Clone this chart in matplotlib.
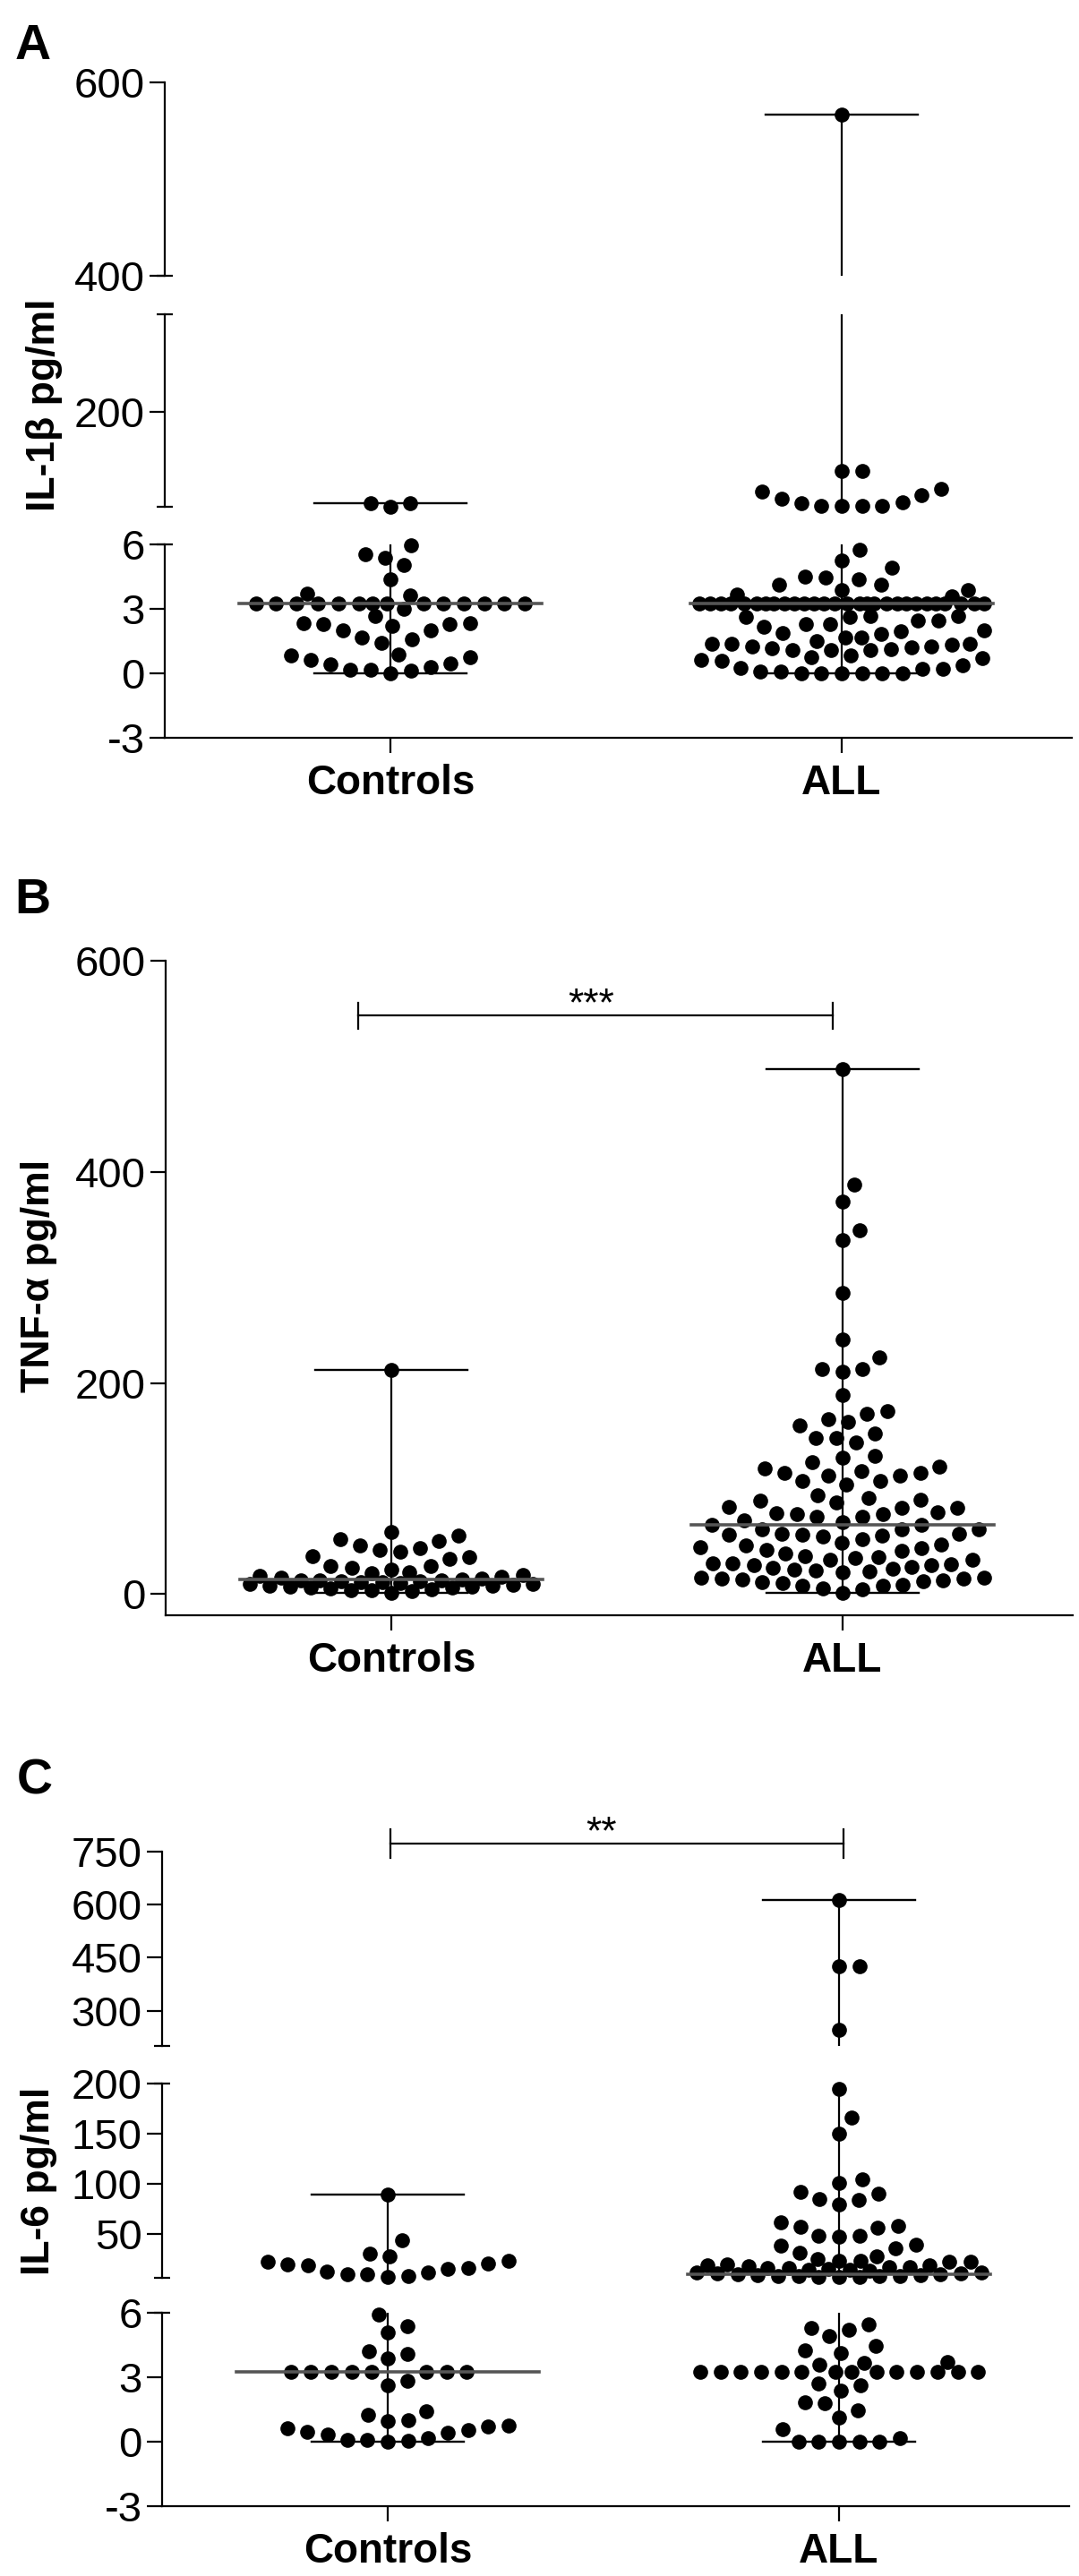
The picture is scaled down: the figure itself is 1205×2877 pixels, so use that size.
import numpy as np
import matplotlib
matplotlib.use("Agg")
import matplotlib.pyplot as plt

plt.rcParams["font.family"] = ["Liberation Sans", "DejaVu Sans"]
plt.rcParams["axes.unicode_minus"] = False

groups = ["Controls", "ALL"]

# IL-1beta, pg/ml
il1b_controls = [0.0, 0.10, 0.15, 0.15, 0.29, 0.40, 0.46, 0.61, 0.73, 0.81, 0.87,
                 1.40, 1.57, 1.68, 1.98, 1.98, 2.19, 2.30, 2.30, 2.31, 2.34,
                 2.65, 2.99,
                 3.23, 3.23, 3.23, 3.23, 3.23, 3.23, 3.23, 3.23, 3.23, 3.23, 3.23, 3.23, 3.23, 3.23,
                 3.62, 3.71, 4.35, 5.04, 5.38, 5.52, 5.93,
                 6.5, 12.5, 13.0]
il1b_all = [0.0, 0.0, 0.0, 0.0, 0.0, 0.01, 0.08, 0.08, 0.22, 0.22, 0.25, 0.39, 0.57, 0.61,
            0.71, 0.74, 0.84,
            1.08, 1.08, 1.08, 1.12, 1.15, 1.22, 1.26, 1.26, 1.33, 1.36, 1.36, 1.37, 1.50, 1.68, 1.68,
            1.81, 1.88, 1.95, 1.99,
            2.16, 2.30, 2.30, 2.44, 2.44, 2.60, 2.60, 2.65, 2.65,
            3.23, 3.23, 3.23, 3.23, 3.23, 3.23, 3.23, 3.23, 3.23, 3.23, 3.23, 3.23, 3.23, 3.23,
            3.23, 3.23, 3.23, 3.23, 3.23, 3.23, 3.23, 3.23, 3.23, 3.23, 3.23, 3.23, 3.23, 3.23,
            3.58, 3.66, 3.87, 3.87, 4.10, 4.10, 4.38, 4.43, 4.49, 4.89, 5.25, 5.72,
            8.0, 8.0, 8.0, 8.5, 14.0, 15.7, 23.0, 29.0, 37.0, 42.0, 79.0, 80.0,
            567.0]

# TNF-alpha, pg/ml (panel B)
tnfa_controls = [0.8, 2.5, 3.5, 4.0, 4.5,
                 5.2, 5.9, 6.3, 7.1, 7.4, 8.2, 8.4, 9.1, 9.6, 9.8, 10.7, 11.2, 11.5, 12.1,
                 12.6, 12.9, 13.2, 13.4,
                 13.6, 14.5, 15.5, 16.5, 17.5, 18.4, 20.6,
                 20.0, 23.0, 27.0,
                 24.9, 26.3, 33.3, 36.2,
                 35.3, 40.4, 41.8, 43.2,
                 46.0, 50.3, 51.7, 55.9, 58.8,
                 212.0]
tnfa_all = [0.85, 5.0, 5.3, 7.7, 8.1, 9.2, 10.4, 11.0, 12.1, 13.0, 14.0, 14.5, 15.0, 15.2, 15.5,
            21.0, 21.4, 22.2, 23.3, 24.4, 25.1, 26.0, 27.2, 27.6, 28.1, 29.0, 29.3,
            32.2, 33.0, 34.1, 35.3, 36.4, 38.2, 41.1, 41.8, 44.0, 44.6,
            46.0, 47.2, 48.9, 52.1, 54.5, 55.9, 56.0, 56.3, 57.4, 57.5, 61.0, 61.6, 61.6, 65.5, 66.0,
            68.6, 70.1, 72.9, 72.9, 75.7, 75.7, 77.0, 77.7, 81.4, 81.4, 83.0, 87.0, 88.4,
            89.8, 91.2, 94.0,
            104.0, 106.8, 106.8, 112.4, 112.4, 115.0, 115.0, 116.7,
            119.5, 120.9, 125.0, 129.4, 130.8,
            143.5, 147.7, 147.7, 152.0, 159.6, 163.3, 166.1, 170.9, 173.7, 188.7,
            210.8, 213.3, 213.3, 224.6, 241.5, 285.0, 335.0, 345.0, 372.0, 388.0, 497.0]

# IL-6, pg/ml (panel C)
il6_controls = [0.0, 0.03, 0.10, 0.10, 0.16, 0.34, 0.40, 0.47, 0.53, 0.64, 0.71, 0.75, 0.96, 0.99,
                1.26, 1.40, 2.63, 2.84,
                3.23, 3.23, 3.23, 3.23, 3.23, 3.23, 3.23, 3.23,
                3.86, 4.07, 4.20, 5.07, 5.37, 5.92,
                7.2, 8.1, 9.6, 9.6, 11.0, 12.0, 14.9, 15.5, 18.4, 19.4, 20.0, 22.3, 23.0, 27.4, 30.4,
                43.3, 89.1]
il6_all = [0.0, 0.0, 0.0, 0.0, 0.0, 0.16, 0.58,
           1.12, 1.44, 1.80, 1.85, 2.36, 2.63, 2.70,
           3.23, 3.23, 3.23, 3.23, 3.23, 3.23, 3.23, 3.23, 3.23, 3.23, 3.23, 3.23, 3.23, 3.23,
           3.59, 3.66, 3.70, 4.14, 4.25, 4.44, 4.92, 5.19, 5.30, 5.47,
           6.5, 7.0, 7.1, 7.5, 7.6, 8.0, 8.2, 8.6, 9.1, 9.6, 10.0, 10.3, 10.6, 11.0, 11.4,
           12.8, 13.9, 14.4, 15.1, 15.6, 16.0, 16.7, 17.1, 17.6, 18.1, 18.5, 19.2,
           22.0, 22.0, 23.0, 23.0, 24.5, 27.4, 31.0, 35.8, 37.9, 39.3, 46.8, 48.3, 48.3,
           56.3, 57.2, 57.7, 61.7, 79.5, 84.0, 84.6, 90.0, 91.5, 101.0, 104.0,
           150.2, 166.0, 194.8,
           246.0, 425.6, 425.6, 612.5]

W, H, DPI = 1205, 2877, 100
fig = plt.figure(figsize=(W / DPI, H / DPI), dpi=DPI)

XLIM = (-0.5, 1.51)
AX_W = 1013          # px
DOT_D = 22.7         # px between touching dots
HALF_W = 159         # px, widest a swarm gets
MED_HALF = 0.336     # data units
WHISK_HALF = 0.169
LW = 1.6


def add_ax(left, top, bottom, ylim, majors, caps=()):
    ax = fig.add_axes([left / W, 1 - bottom / H, AX_W / W, (bottom - top) / H])
    ax.set_xlim(*XLIM)
    ax.set_ylim(*ylim)
    ax.patch.set_visible(False)
    for s in ["top", "right", "bottom"]:
        ax.spines[s].set_visible(False)
    ax.spines["left"].set_linewidth(LW)
    ax.set_xticks([])
    ax.set_yticks(majors)
    ax.yaxis.remove_overlapping_locs = False
    ax.set_yticks(list(caps), minor=True)
    ax.tick_params(axis="y", which="major", direction="out", length=12, width=LW,
                   labelsize=34, pad=4)
    ax.tick_params(axis="y", which="minor", direction="inout", length=13, width=LW)
    return ax


def set_xaxis(ax):
    ax.spines["bottom"].set_visible(True)
    ax.spines["bottom"].set_linewidth(LW)
    ax.set_xticks([0, 1])
    ax.set_xticklabels(groups, fontsize=33, fontweight="bold")
    ax.tick_params(axis="x", direction="out", length=12, width=LW, pad=9)


def swarm(ypx):
    xs = np.zeros(len(ypx))
    placed = []
    for i in np.argsort(ypx, kind="stable"):
        y = ypx[i]
        near = [(px, py) for px, py in placed if abs(py - y) < DOT_D]
        cands = [0.0]
        for px, py in near:
            d = np.sqrt(DOT_D ** 2 - (py - y) ** 2)
            cands += [px - d, px + d]
        good = [c for c in cands if abs(c) <= HALF_W + 1e-6 and
                all((c - px) ** 2 + (y - py) ** 2 >= DOT_D ** 2 - 1e-6 for px, py in near)]
        if good:
            x = min(good, key=lambda c: (round(abs(c), 4), -c))
        else:
            grid = np.linspace(-HALF_W, HALF_W, 161)
            score = [min(np.hypot(g - px, y - py) for px, py in near) for g in grid]
            k = max(range(len(grid)), key=lambda j: (round(score[j], 2), -abs(grid[j])))
            x = grid[k]
        xs[i] = x
        placed.append((x, y))
    return xs


def draw_group(axes, bounds, xpos, values):
    vals = np.asarray(values, dtype=float)
    vmin, vmax, med = vals.min(), vals.max(), np.median(vals)
    for ax, (lo, hi) in zip(axes, bounds):
        sel = vals[(vals > lo) & (vals <= hi)]
        if len(sel):
            ypx = ax.transData.transform(np.column_stack([np.full(len(sel), xpos), sel]))[:, 1]
            xscale = ax.bbox.width / (XLIM[1] - XLIM[0])
            ax.plot(xpos + swarm(ypx) / xscale, sel, "o", ms=12, color="black",
                    mew=0, clip_on=False, zorder=2)
        ax.plot([xpos, xpos], [vmin, vmax], color="black", lw=1.6, zorder=1)
        for v in (vmin, vmax):
            ax.plot([xpos - WHISK_HALF, xpos + WHISK_HALF], [v, v], color="black", lw=1.7, zorder=1)
        ax.plot([xpos - MED_HALF, xpos + MED_HALF], [med, med], color="#555555", lw=2.6, zorder=3)


def sig_bar(ax, x0, x1, y, cap, text, tx):
    kw = dict(color="black", lw=1.6, clip_on=False)
    ax.plot([x0, x1], [y, y], **kw)
    ax.plot([x0, x0], [y - cap, y + cap], **kw)
    ax.plot([x1, x1], [y - cap, y + cap], **kw)
    ax.text(tx, y, text, ha="center", va="baseline", fontsize=32, clip_on=False)


def label(text, x, y, **kw):
    fig.text(x / W, 1 - y / H, text, fontweight="bold", **kw)


# ---- panel A: IL-1b, axis broken twice
a_low = add_ax(184, 607.7, 824, (-3, 6), [-3, 0, 3, 6], [6])
a_mid = add_ax(184, 351, 566, (6, 400), [200], [6, 400])
a_top = add_ax(184, 92, 308, (400, 600), [400, 600], [400])
set_xaxis(a_low)
a_axes = [a_low, a_mid, a_top]
a_bounds = [(-np.inf, 6), (6, 400), (400, np.inf)]
draw_group(a_axes, a_bounds, 0, il1b_controls)
draw_group(a_axes, a_bounds, 1, il1b_all)

# ---- panel B: TNF-a, single axis
b_ax = add_ax(185, 1073, 1804, (-20, 600), [0, 200, 400, 600])
set_xaxis(b_ax)
draw_group([b_ax], [(-np.inf, np.inf)], 0, tnfa_controls)
draw_group([b_ax], [(-np.inf, np.inf)], 1, tnfa_all)
sig_bar(b_ax, -0.073, 0.978, 548, 12.3, "***", 0.4425)

# ---- panel C: IL-6, axis broken twice
c_low = add_ax(181, 2583, 2799, (-3, 6), [-3, 0, 3, 6], [6])
c_mid = add_ax(181, 2327, 2544, (6, 200), [50, 100, 150, 200], [6, 200])
c_top = add_ax(181, 2068, 2285, (200, 750), [300, 450, 600, 750], [200])
set_xaxis(c_low)
c_axes = [c_low, c_mid, c_top]
c_bounds = [(-np.inf, 6), (6, 200), (200, np.inf)]
draw_group(c_axes, c_bounds, 0, il6_controls)
draw_group(c_axes, c_bounds, 1, il6_all)
sig_bar(c_top, 0.006, 1.01, 772.8, 39.3, "**", 0.474)

# panel letters and y titles
label("A", 17, 66, fontsize=40, ha="left", va="baseline")
label("B", 16, 1020, fontsize=40, ha="left", va="baseline")
label("C", 19, 2003, fontsize=40, ha="left", va="baseline")
label("IL-1β pg/ml", 50, 452, fontsize=32, rotation=90, ha="center", va="center")
label("TNF-α pg/ml", 44, 1425, fontsize=32, rotation=90, ha="center", va="center")
label("IL-6 pg/ml", 44, 2436, fontsize=32, rotation=90, ha="center", va="center")

fig.savefig("out.png", dpi=DPI, facecolor="white")
